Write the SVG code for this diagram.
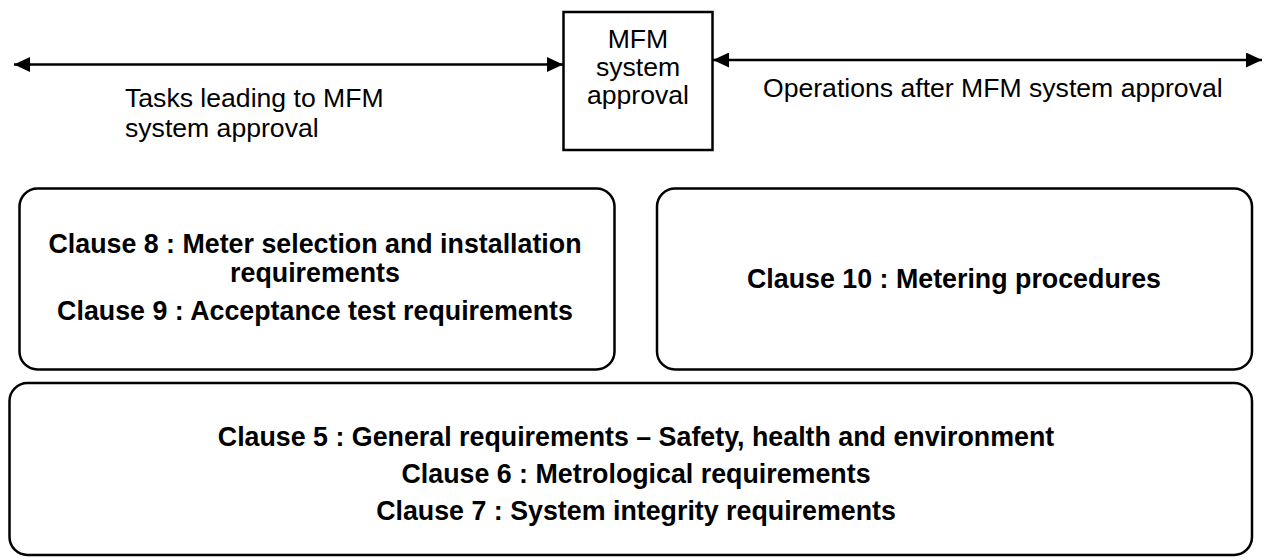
<svg xmlns="http://www.w3.org/2000/svg" width="1264" height="560" viewBox="0 0 1264 560">
  <defs>
    <style>
      .box { fill: #ffffff; stroke: #000000; stroke-width: 2.5; }
      .conn { stroke: #000000; stroke-width: 2.6; fill: none; }
      .lbl { font-family: "Liberation Sans", Arial, sans-serif; font-size: 26.6px; fill: #000000; }
      .bold { font-family: "Liberation Sans", Arial, sans-serif; font-size: 26.8px; font-weight: bold; fill: #000000; }
      .mid { text-anchor: middle; }
    </style>
    <marker id="head" viewBox="0 0 16 15" refX="16" refY="7.5" markerWidth="16" markerHeight="15" markerUnits="userSpaceOnUse" orient="auto-start-reverse">
      <path d="M0,0 L16,7.5 L0,15 Z" fill="#000000"/>
    </marker>
  </defs>

  <rect width="1264" height="560" fill="#ffffff"/>

  <!-- Timeline arrows on both sides of the approval milestone -->
  <g id="connectors">
    <line class="conn" x1="14" y1="64.5" x2="563" y2="64.5" marker-start="url(#head)" marker-end="url(#head)"/>
    <line class="conn" x1="713" y1="60" x2="1262" y2="60" marker-start="url(#head)" marker-end="url(#head)"/>
  </g>

  <g id="approval">
    <rect class="box" x="563.5" y="12" width="149" height="138" stroke-width="2"/>
    <text class="lbl mid" x="638" y="48">MFM</text>
    <text class="lbl mid" x="638" y="76">system</text>
    <text class="lbl mid" x="638" y="104">approval</text>
  </g>

  <g id="before-label">
    <text class="lbl" x="125" y="107">Tasks leading to MFM</text>
    <text class="lbl" x="125" y="137">system approval</text>
  </g>

  <g id="after-label">
    <text class="lbl" x="763" y="97">Operations after MFM system approval</text>
  </g>

  <g id="clauses-8-9">
    <rect class="box" x="19.5" y="188.5" width="595" height="181" rx="18" ry="18"/>
    <text class="bold mid" x="315" y="253">Clause 8 : Meter selection and installation</text>
    <text class="bold mid" x="315" y="282">requirements</text>
    <text class="bold mid" x="315" y="320">Clause 9 : Acceptance test requirements</text>
  </g>

  <g id="clause-10">
    <rect class="box" x="657" y="188.5" width="595" height="181" rx="18" ry="18"/>
    <text class="bold mid" x="954" y="288">Clause 10 : Metering procedures</text>
  </g>

  <g id="clauses-5-7">
    <rect class="box" x="9.5" y="383" width="1242.5" height="172" rx="18" ry="18"/>
    <text class="bold mid" x="636" y="446">Clause 5 : General requirements – Safety, health and environment</text>
    <text class="bold mid" x="636" y="483">Clause 6 : Metrological requirements</text>
    <text class="bold mid" x="636" y="520">Clause 7 : System integrity requirements</text>
  </g>
</svg>
